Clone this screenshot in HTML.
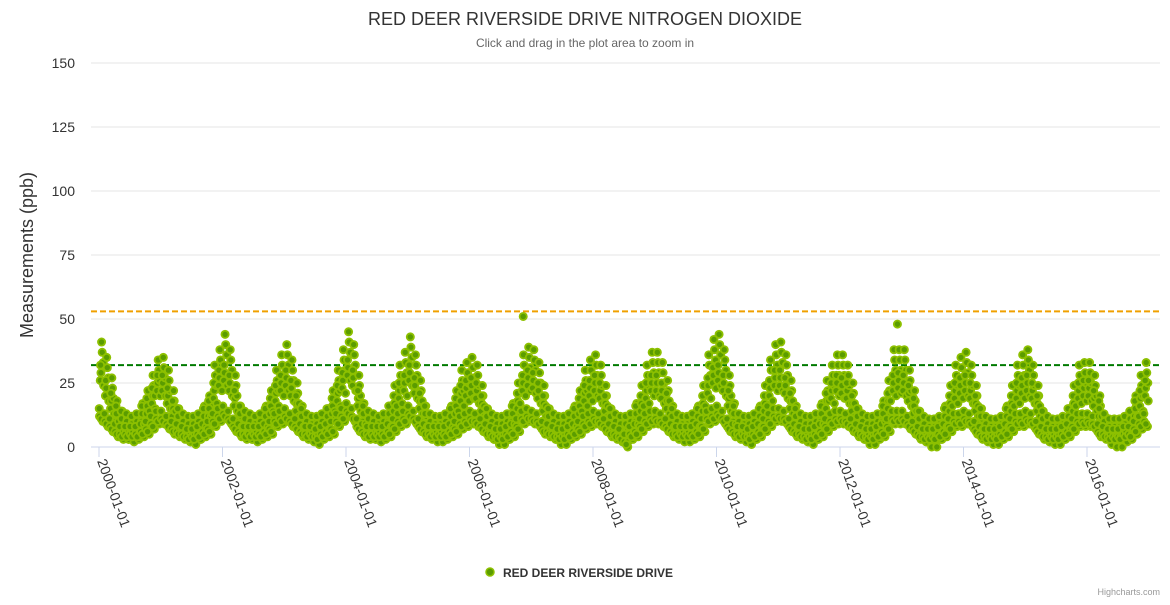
<!DOCTYPE html>
<html><head><meta charset="utf-8"><style>
body{margin:0;background:#fff;font-family:"Liberation Sans",sans-serif;}
svg text{font-family:"Liberation Sans",sans-serif;}
</style></head><body>
<svg id="c" width="1170" height="600" xmlns="http://www.w3.org/2000/svg">
<text x="585" y="25" text-anchor="middle" font-size="18" fill="#333">RED DEER RIVERSIDE DRIVE NITROGEN DIOXIDE</text>
<text x="585" y="47" text-anchor="middle" font-size="12" fill="#666">Click and drag in the plot area to zoom in</text>
<text transform="translate(33,255) rotate(-90)" text-anchor="middle" font-size="18" fill="#333">Measurements (ppb)</text>
<g id="grid"></g><g id="pts"></g><g id="xax"></g>
<g>
<circle cx="490" cy="572" r="4" fill="#5a9c00" stroke="#8dc000" stroke-width="1.5"/>
<text x="503" y="577" font-size="12" font-weight="bold" fill="#333">RED DEER RIVERSIDE DRIVE</text></g>
<text x="1160" y="595" text-anchor="end" font-size="9" fill="#999">Highcharts.com</text>
</svg>
<script>
const yTicks=[0,25,50,75,100,125,150];
const xTickYears=[2000,2002,2004,2006,2008,2010,2012,2014,2016];
const thresholds=[53,32];
const hi=[41,35,27,18,14,11,10,12,17,22,28,34, 35,30,22,15,12,10,9,11,16,20,32,38, 44,38,28,16,13,11,10,12,16,22,30,36, 40,34,25,16,12,10,9,12,15,22,30,38, 45,40,28,17,13,11,10,12,16,24,32,37, 43,36,26,16,12,10,10,12,16,22,30,33, 35,32,24,15,11,9,9,11,17,25,36,39, 38,33,24,15,11,9,9,11,16,22,30,34, 36,32,24,15,12,10,10,12,17,24,32,37, 37,33,26,16,12,10,10,12,16,24,36,42, 44,38,28,17,12,10,9,11,16,24,34,40, 41,36,26,16,12,10,9,11,17,26,32,36, 36,32,25,15,11,9,9,12,18,26,38,38, 38,30,22,14,10,8,8,11,16,24,32,35, 37,32,24,15,11,9,9,11,16,24,32,36, 38,32,24,14,10,9,9,11,15,24,32,33, 33,28,20,12,9,8,8,10,13,20,28,33];
const mid=[26,20,15,10,8,7,6,7,10,13,17,22, 22,17,12,9,7,6,6,7,9,12,19,24, 26,22,16,10,8,7,6,7,9,13,18,22, 24,20,14,9,7,6,6,7,9,13,18,23, 28,24,16,10,8,7,6,7,10,14,19,22, 26,21,15,10,7,6,6,7,9,13,18,20, 21,19,14,9,7,6,6,7,10,15,22,24, 23,19,14,9,7,6,6,7,9,13,18,20, 22,19,14,9,7,6,6,7,10,14,19,22, 22,19,15,9,7,6,6,7,9,14,21,25, 26,22,16,10,7,6,6,7,9,14,20,24, 24,21,15,9,7,6,6,7,10,15,19,22, 21,19,14,9,7,6,6,7,10,15,22,23, 22,18,13,8,6,5,5,6,9,14,19,21, 22,19,14,9,6,5,5,6,9,14,19,21, 22,19,14,8,6,5,5,6,9,14,19,20, 20,16,12,7,5,5,5,6,8,12,16,20];
const lo=[10,8,6,4,3,3,3,3,4,5,7,9, 9,7,5,4,3,2,2,3,4,5,8,10, 11,9,6,4,3,3,3,3,4,5,8,9, 10,8,6,4,3,3,2,3,4,5,8,10, 12,10,6,4,3,3,3,3,4,6,8,9, 11,9,6,4,3,3,3,3,4,5,7,8, 9,8,6,4,3,2,2,3,4,6,9,10, 9,8,5,4,3,2,2,3,4,5,7,8, 9,8,6,4,3,2,0,3,4,6,8,9, 9,8,6,4,3,3,3,3,4,6,9,10, 11,9,6,4,3,3,2,3,4,6,8,10, 10,9,6,4,3,2,2,3,4,6,8,9, 9,8,6,4,3,2,2,3,4,6,9,9, 9,7,5,3,2,2,2,3,4,6,8,8, 9,8,5,3,2,2,2,3,4,6,8,8, 9,8,5,3,2,2,2,3,4,6,8,8, 8,7,4,3,2,2,2,3,3,5,7,8];
const outlierDates=[2006.87,2012.93];
const outlierVals=[51,48];
const NS="http://www.w3.org/2000/svg";
const x0=91,x1=1160,xA=99,pxYear=61.75,yZero=447,pxUnit=2.56;
const X=t=>xA+(t-2000)*pxYear, Y=v=>yZero-v*pxUnit;
function mk(tag,a,p){const e=document.createElementNS(NS,tag);for(const k in a)e.setAttribute(k,a[k]);p.appendChild(e);return e;}
const grid=document.getElementById('grid');
yTicks.forEach(v=>{
 const l=mk('line',{x1:x0,x2:x1,y1:Y(v),y2:Y(v),stroke:v===0?'#ccd6eb':'#e6e6e6','stroke-width':1},grid);
 
 
 const t=mk('text',{x:75,y:Y(v)+5,'text-anchor':'end','font-size':14,fill:'#333'},grid);
 t.textContent=v;
 
 
});
const thColors=['#f0a000','#007a00'];
thresholds.forEach((v,i)=>{
 const l=mk('line',{x1:x0,x2:x1,y1:Y(v),y2:Y(v),stroke:thColors[i],'stroke-width':2,'stroke-dasharray':'6,3'},grid);
 
 
});
const pts=document.getElementById('pts');
function dot(t,v){
 const c=mk('circle',{cx:X(t),cy:Y(Math.max(0,v)),r:3.6,fill:'#5a9c00',stroke:'#8dc000','stroke-width':1.8},pts);
 
 
}
for(let m=0;m<hi.length;m++){
 const base=2000+m/12, d=1/12;
 dot(base+0.25*d,mid[m]);dot(base+0.5*d,hi[m]);dot(base+0.75*d,lo[m]);
 dot(base+0.1*d,lo[m]+2);dot(base+0.9*d,mid[m]-2);dot(base+0.62*d,hi[m]-4);
 dot(base+0.38*d,mid[m]+3);dot(base+0.05*d,lo[m]+5);dot(base+0.82*d,hi[m]-8);
 dot(base+0.45*d,lo[m]+1);dot(base+0.3*d,mid[m]+6);
}
outlierDates.forEach((t,i)=>dot(t,outlierVals[i]));
const xax=document.getElementById('xax');
xTickYears.forEach(yr=>{
 const x=X(yr);
 const l=mk('line',{x1:x,x2:x,y1:yZero,y2:yZero+10,stroke:'#ccd6eb'},xax);
 
 
 const t=mk('text',{transform:`translate(${x-2},${yZero+14}) rotate(70)`,'font-size':14,fill:'#333'},xax);
 t.textContent=yr+'-01-01';
 
 
});
</script>
</body></html>
